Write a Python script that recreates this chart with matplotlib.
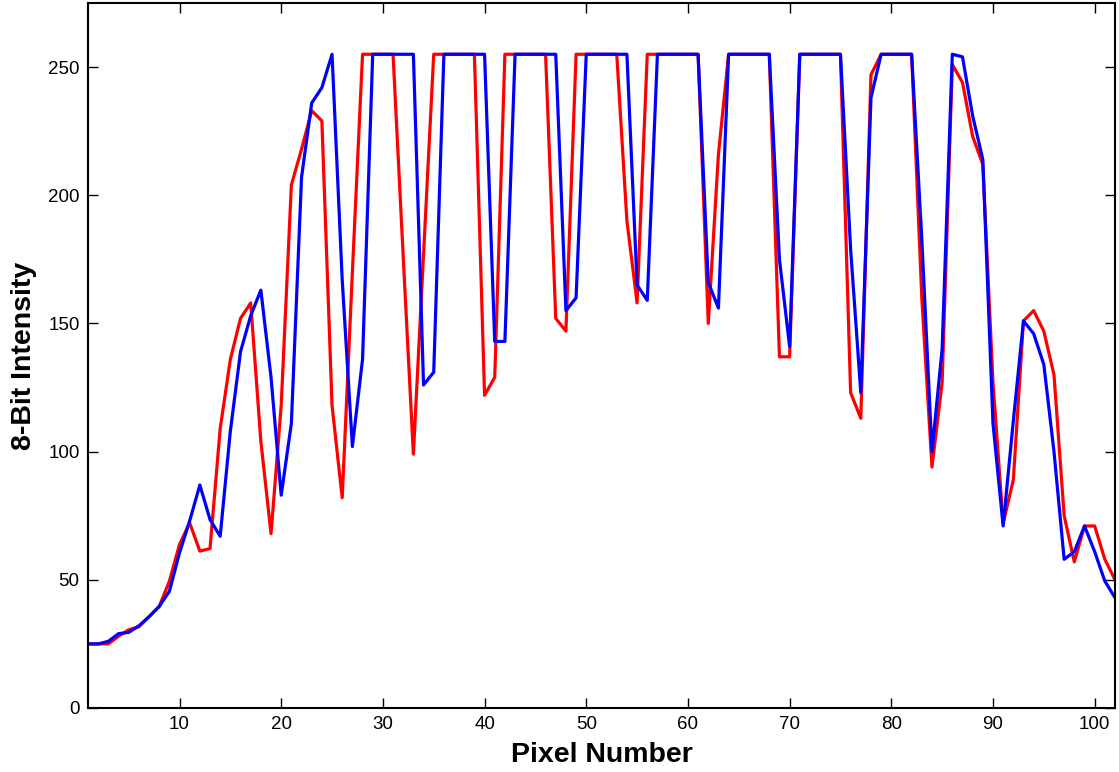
import matplotlib
matplotlib.use("Agg")
import matplotlib.pyplot as plt
import numpy as np

plt.rcParams['font.family'] = ['Liberation Sans', 'DejaVu Sans']

pixel = list(range(1, 103))

red_values = [
    25, 25, 25, 28, 30.5, 31.7, 35.6, 39.6, 49.4, 63.8,
    72.2, 61.2, 62.2, 109, 136, 152, 158, 104, 68, 118,
    204, 218, 233, 229, 118, 82, 170, 255, 255, 255,
    255, 176, 99, 177, 255, 255, 255, 255, 255, 122,
    129, 255, 255, 255, 255, 255, 152, 147, 255, 255,
    255, 255, 255, 190, 158, 255, 255, 255, 255, 255,
    255, 150, 216, 255, 255, 255, 255, 255, 137, 137,
    255, 255, 255, 255, 255, 123, 113, 247, 255, 255,
    255, 255, 160, 94, 127, 251, 244, 223, 212, 127,
    72, 89, 151, 155, 147, 130, 75, 57, 71, 71,
    58, 50,
]

blue_values = [
    25, 25, 26, 29, 29.5, 32, 35.6, 39.6, 45.5, 60.5,
    73, 87, 73.5, 67, 108, 139, 153, 163, 129, 83,
    111, 207, 236, 242, 255, 167, 102, 136, 255, 255,
    255, 255, 255, 126, 131, 255, 255, 255, 255, 255,
    143, 143, 255, 255, 255, 255, 255, 155, 160, 255,
    255, 255, 255, 255, 165, 159, 255, 255, 255, 255,
    255, 166, 156, 255, 255, 255, 255, 255, 175, 141,
    255, 255, 255, 255, 255, 179, 123, 238, 255, 255,
    255, 255, 183, 100, 140, 255, 254, 231, 214, 111,
    71, 112, 151, 146, 134, 100, 58, 61, 71, 61,
    49.5, 43,
]

x_ticks = [10, 20, 30, 40, 50, 60, 70, 80, 90, 100]
y_ticks = [0, 50, 100, 150, 200, 250]

fig = plt.figure(figsize=(11.19, 7.72), dpi=100)
ax = fig.add_axes([88/1119, 1 - 708/772, (1115-88)/1119, (708-3)/772])

ax.plot(pixel, red_values, color='#ff0000', linewidth=2.3)
ax.plot(pixel, blue_values, color='#0000ff', linewidth=2.3)

ax.set_xlim(1, 102)
ax.set_ylim(0, 275)
ax.set_xticks(x_ticks)
ax.set_yticks(y_ticks)
ax.tick_params(direction='in', length=7, width=1, labelsize=13.5,
               top=True, right=True, colors='black', pad=6)
for s in ax.spines.values():
    s.set_linewidth(1.5)
    s.set_color('black')

ax.set_xlabel('Pixel Number', fontsize=20.5, fontweight='bold', labelpad=6)
ax.set_ylabel('8-Bit Intensity', fontsize=20.5, fontweight='bold', labelpad=8)

fig.savefig('out.png', dpi=100)
